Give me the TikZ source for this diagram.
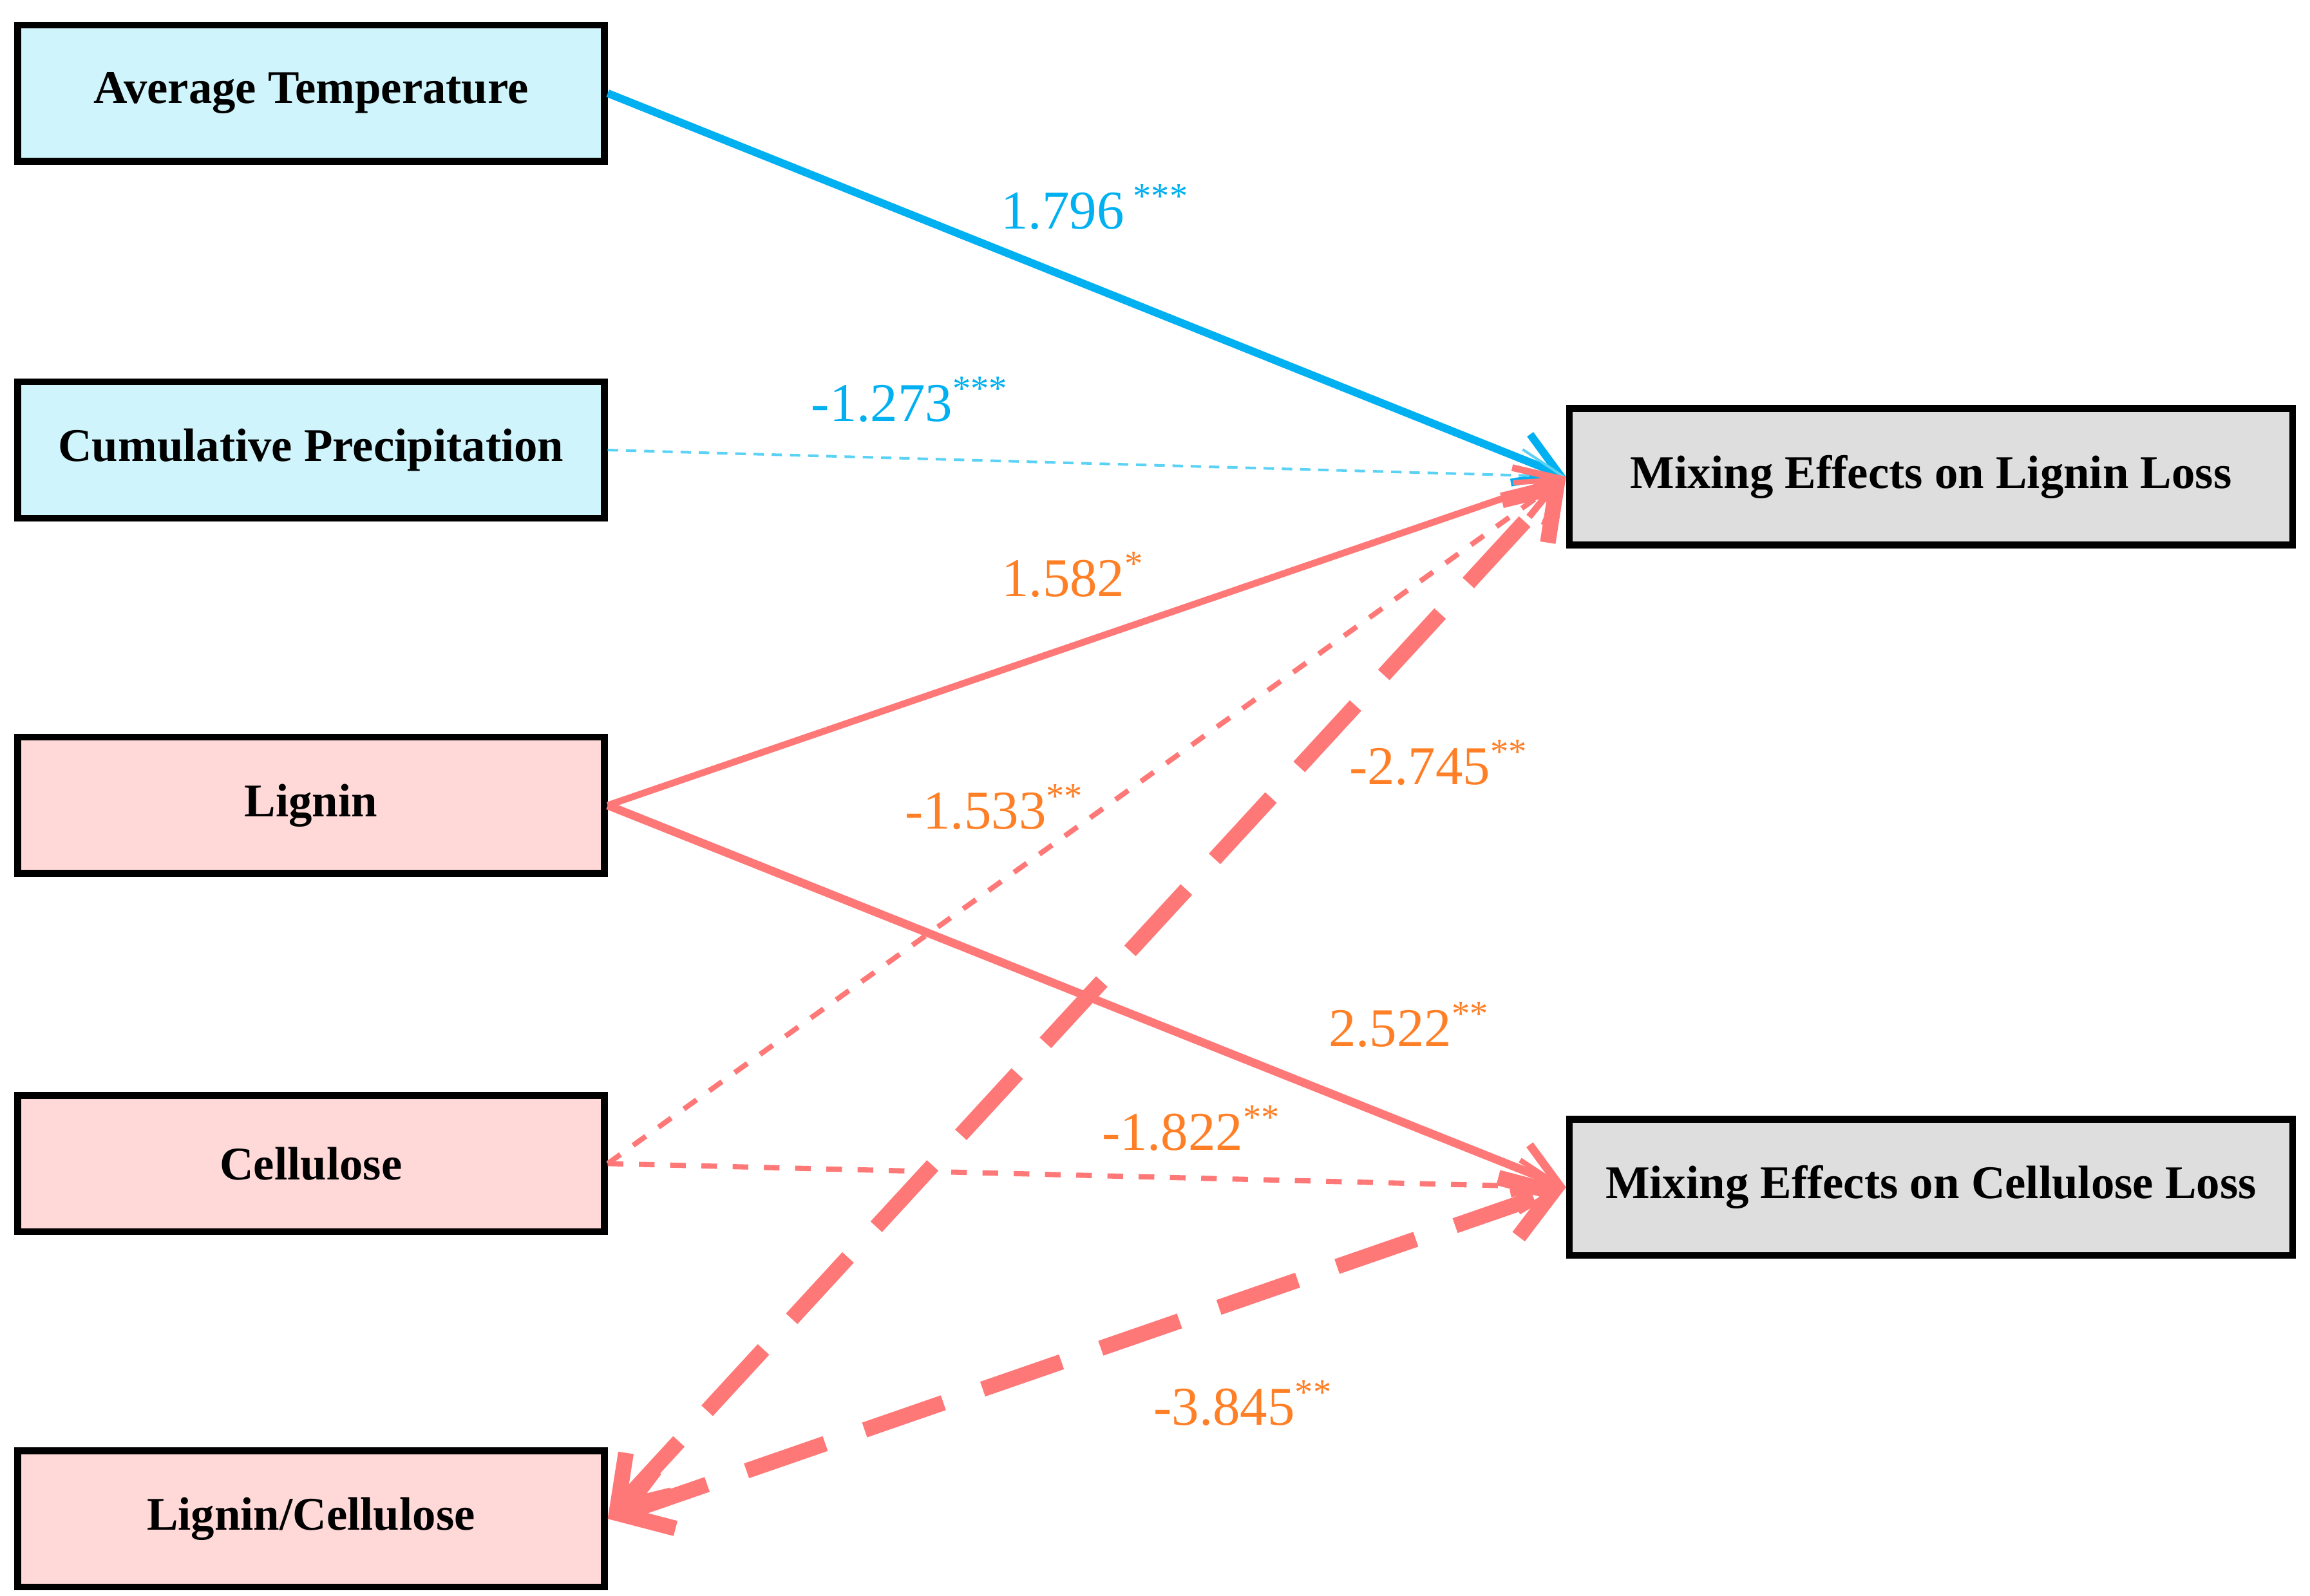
\documentclass[tikz,border=0pt]{standalone}
\usepackage{fontspec}
\setmainfont{Liberation Serif}
\usetikzlibrary{arrows.meta}
\definecolor{cy}{RGB}{0,176,240}
\definecolor{cyl}{RGB}{90,210,245}
\definecolor{sal}{RGB}{255,120,120}
\definecolor{org}{RGB}{255,127,39}
\definecolor{lb}{RGB}{208,244,252}
\definecolor{lp}{RGB}{255,216,216}
\definecolor{gr}{RGB}{222,222,222}
\newcommand{\st}[1]{\textsuperscript{\fontsize{7}{8}\selectfont #1}}
\begin{document}
\begin{tikzpicture}[x=0.01cm,y=-0.01cm,
 box/.style={draw=black,line width=1.3pt,minimum width=3.96cm,minimum height=0.92cm,font=\bfseries\fontsize{9}{11}\selectfont,inner sep=0},
 rbox/.style={box,minimum width=4.88cm,fill=gr},
 lab/.style={font=\fontsize{10.5}{13}\selectfont},
 arr/.style={-{Straight Barb[length=8pt,width=10pt]}},
 barr/.style={{Straight Barb[length=9pt,width=12pt]}-{Straight Barb[length=9pt,width=12pt]},line width=3pt,dash pattern=on 16pt off 8pt,sal}]
\useasboundingbox (0,0) rectangle (1560,1078);
\node[box,fill=lb] (at) at (210,63) {Average Temperature};
\node[box,fill=lb] (cp) at (210,304) {Cumulative Precipitation};
\node[box,fill=lp] (lg) at (210,544) {Lignin};
\node[box,fill=lp] (ce) at (210,786) {Cellulose};
\node[box,fill=lp] (lc) at (210,1026) {Lignin/Cellulose};
\node[rbox] (ll) at (1304,322) {Mixing Effects on Lignin Loss};
\node[rbox] (cl) at (1304,802) {Mixing Effects on Cellulose Loss};
\draw[arr,cy,line width=1.5pt] (at.east) -- (ll.west);
\draw[arr,cyl,dash pattern=on 2pt off 1.5pt,line width=0.5pt] (cp.east) -- (ll.west);
\draw[arr,sal,line width=1.3pt] (lg.east) -- (ll.west);
\draw[arr,sal,line width=1.6pt] (lg.east) -- (cl.west);
\draw[arr,sal,dashed,line width=1pt] (ce.east) -- (ll.west);
\draw[arr,sal,dashed,line width=1pt] (ce.east) -- (cl.west);
\draw[barr] (lc.east) -- (ll.west);
\draw[barr] (lc.east) -- (cl.west);
\node[lab,cy] at (740,140) {1.796\,\st{***}};
\node[lab,cy] at (615,270) {-1.273\st{***}};
\node[lab,org] at (725,388) {1.582\st{*}};
\node[lab,org] at (672,545) {-1.533\st{**}};
\node[lab,org] at (972,515) {-2.745\st{**}};
\node[lab,org] at (952,692) {2.522\st{**}};
\node[lab,org] at (805,762) {-1.822\st{**}};
\node[lab,org] at (840,948) {-3.845\st{**}};
\end{tikzpicture}
\end{document}
